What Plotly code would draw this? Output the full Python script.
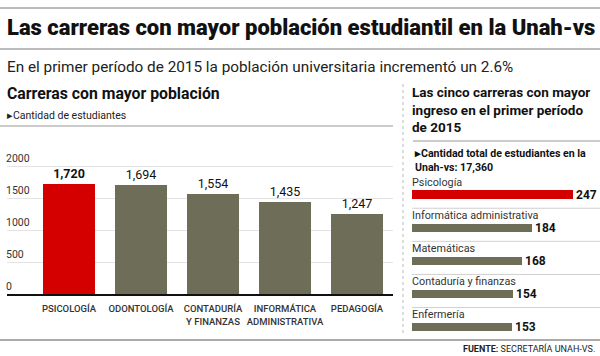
import plotly.graph_objects as go

# Data
main_categories = ["PSICOLOGÍA", "ODONTOLOGÍA", "CONTADURÍA<br>Y FINANZAS",
                   "INFORMÁTICA<br>ADMINISTRATIVA", "PEDAGOGÍA"]
main_values = [1720, 1694, 1554, 1435, 1247]
main_colors = ["#d40000", "#6e6d58", "#6e6d58", "#6e6d58", "#6e6d58"]
y_ticks = [0, 500, 1000, 1500, 2000]

side_categories = ["Psicología", "Informática administrativa", "Matemáticas",
                   "Contaduría y finanzas", "Enfermería"]
side_values = [247, 184, 168, 154, 153]
side_colors = ["#d40000", "#6e6d58", "#6e6d58", "#6e6d58", "#6e6d58"]

W, H = 600, 356
def px(x):
    return x / W
def py(y):
    return 1 - y / H

FONT = "Roboto"

fig = go.Figure()

xi = list(range(len(main_categories)))
fig.add_trace(go.Bar(
    x=xi, y=main_values, marker=dict(color=main_colors, line=dict(width=0)),
    width=0.72,
    text=[("<b>%s</b>" if i == 0 else "%s") % f"{v:,}" for i, v in enumerate(main_values)],
    textposition="outside", cliponaxis=False, constraintext="none",
    textfont=dict(family=FONT, size=12.5, color="#111"),
    xaxis="x", yaxis="y", showlegend=False, hoverinfo="skip",
))

si = list(range(len(side_categories)))
fig.add_trace(go.Bar(
    x=side_values, y=si, orientation="h",
    marker=dict(color=side_colors, line=dict(width=0)),
    width=0.25,
    text=[f"<b>{v}</b>" for v in side_values],
    textposition="outside", cliponaxis=False, constraintext="none",
    textfont=dict(family=FONT, size=12, color="#111"),
    xaxis="x2", yaxis="y2", showlegend=False, hoverinfo="skip",
))

# Category labels above side bars
for i, c in enumerate(side_categories):
    fig.add_annotation(x=0, y=i, xref="x2", yref="y2", text=c, showarrow=False,
                       xanchor="left", yanchor="middle", yshift=13, xshift=-1,
                       borderpad=0,
                       font=dict(family=FONT, size=10.8, color="#333"))

fig.update_layout(
    width=W, height=H, margin=dict(l=0, r=0, t=0, b=0),
    paper_bgcolor="white", plot_bgcolor="white",
    bargap=0,
    xaxis=dict(domain=[px(7), px(393)], range=[-0.861, 4.5],
               tickmode="array", tickvals=xi, ticktext=main_categories,
               tickangle=0, ticklabelstandoff=5,
               tickfont=dict(family=FONT, size=9.5, color="#333", weight=500),
               showgrid=False, showline=True, linecolor="#111", linewidth=2,
               ticks="", zeroline=False, fixedrange=True),
    yaxis=dict(domain=[py(294), py(140.4)], range=[0, 2400],
               tickmode="array", tickvals=y_ticks,
               ticklabelposition="inside top", ticklabelstandoff=-4,
               tickfont=dict(family=FONT, size=10.5, color="#333"),
               showgrid=True, gridcolor="#e3e3e3", gridwidth=1,
               zeroline=False, showline=False, ticks="", fixedrange=True),
    xaxis2=dict(domain=[px(412), px(600)], range=[0, 288], anchor="y2",
                visible=False, fixedrange=True),
    yaxis2=dict(domain=[py(343.95), py(178.45)], range=[4.5, -0.5], anchor="x2",
                visible=False, fixedrange=True),
)

# Lines / separators
shapes = [
    dict(type="line", xref="paper", yref="paper", x0=0, x1=1, y0=py(8), y1=py(8),
         line=dict(color="#777", width=1)),
    dict(type="line", xref="paper", yref="paper", x0=0, x1=1, y0=py(49), y1=py(49),
         line=dict(color="#777", width=1)),
    dict(type="line", xref="paper", yref="paper", x0=0, x1=px(393), y0=py(126), y1=py(126),
         line=dict(color="#999", width=1)),
    dict(type="line", xref="paper", yref="paper", x0=px(413), x1=1, y0=py(141), y1=py(141),
         line=dict(color="#999", width=1)),
    dict(type="line", xref="paper", yref="paper", x0=px(403), x1=px(403), y0=py(84), y1=py(336),
         line=dict(color="#bbb", width=1, dash="dot")),
    dict(type="line", xref="paper", yref="paper", x0=0, x1=1, y0=py(340), y1=py(340),
         line=dict(color="#555", width=1)),
]
# light separators between side items
for i in si[:-1]:
    shapes.append(dict(type="line", xref="paper", yref="y2", x0=px(412), x1=1,
                       y0=i + 0.4, y1=i + 0.4, line=dict(color="#d0d0d0", width=1)))
fig.update_layout(shapes=shapes)

def txt(x, y, s, size, color="#111", xanchor="left", weight=None):
    f = dict(family=FONT, size=size, color=color)
    if weight:
        f["weight"] = weight
    fig.add_annotation(x=px(x), y=py(y), xref="paper", yref="paper", text=s,
                       showarrow=False, xanchor=xanchor, yanchor="middle",
                       align="left", font=f, borderpad=0)

txt(6, 28, "Las carreras con mayor población estudiantil en la Unah-vs", 22, weight=900)
txt(6, 67, "En el primer período de 2015 la población universitaria incrementó un 2.6%", 15.3, "#222")
txt(6, 93, "<b>Carreras con mayor población</b>", 15.8)
txt(6, 115, "▸Cantidad de estudiantes", 10.5, "#222")
txt(411, 110, "<b>Las cinco carreras con mayor<br>ingreso en el primer período<br>de 2015</b>", 13.5)
txt(413, 160, "<b>▸Cantidad total de estudiantes en la<br>Unah-vs: 17,360</b>", 10.6)
txt(596, 348.5, "<b>FUENTE:</b> SECRETARÍA UNAH-VS.", 9, "#222", xanchor="right")

fig.write_html("out.html", post_script="document.body.style.margin='0px';",
               config={"displayModeBar": False})
